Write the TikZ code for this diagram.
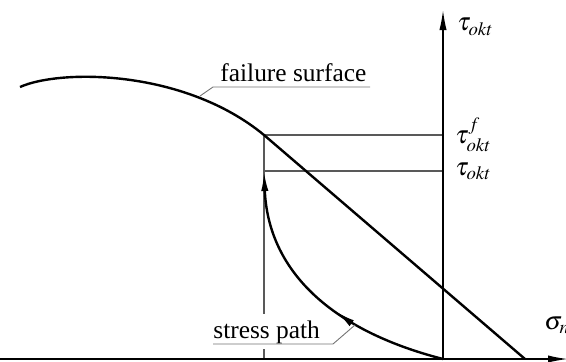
\documentclass[tikz,border=0pt]{standalone}
\usepackage{mathptmx}
\usepackage{fontspec}
\setmainfont{Liberation Serif}
\newfontfamily\labelfont{Liberation Serif}
\usetikzlibrary{arrows.meta, positioning, decorations.markings}

\begin{document}
\begin{tikzpicture}[x=0.5pt, y=0.5pt, node distance=6pt,
        font=\labelfont\fontsize{12.7}{15}\selectfont,
        >={Latex[length=10pt, width=3.6pt]},
        axis/.style={draw=black, line width=0.7pt},
        guide/.style={draw=black!65, line width=0.6pt},
        curve/.style={draw=black, line width=1.2pt},
        leader/.style={draw=black!55, line width=0.45pt},
        lbl/.style={inner sep=0pt}]
        \useasboundingbox (0,0) rectangle (566,361);

        % axes
        \coordinate (O) at (443,2);
        \coordinate (xstart) at (0,2);
        \coordinate (xend) at (568,2);
        \coordinate (ytop) at (443,351);
        \coordinate (tf) at (443,226);
        \coordinate (tk) at (443,190);
        \coordinate (A) at (264,226);
        \coordinate (B) at (264,190);
        \coordinate (Ab) at (264,2);
        \coordinate (f0) at (20,274);
        \coordinate (f1) at (525,2);

        \draw[guide] (A) -- (tf);
        \draw[guide] (B) -- (tk);
        \draw[guide] (A) -- (Ab);

        \draw[axis, ->] (xstart) -- (xend);
        \draw[axis, ->] (O) -- (ytop);

        \node[lbl, below right=4pt and 7pt of ytop] (tau) {$\tau_{okt}$};
        \node[lbl, right=6pt of tf] (tauf) {$\tau^f_{okt}$};
        \node[lbl, right=6pt of tk] (tauk) {$\tau_{okt}$};
        \node[lbl, anchor=west] (sig) at (544,36) {$\sigma_n$};

        % failure surface
        \draw[curve] (f0) .. controls (60,292) and (184,292) .. (A) -- (f1);

        % stress path
        \draw[curve, ->, postaction=decorate,
              decoration={markings, mark=at position 0.42 with {\arrow{>}}}]
            (O) .. controls (330,31) and (268,91) .. (B);

        % labels
        \node[lbl, anchor=base west] (fs) at (220,280) {failure surface};
        \coordinate (fs0) at (213,274);
        \coordinate (fs1) at (370,274);
        \coordinate (fsp) at (200,265);
        \draw[leader] (fs1) -- (fs0) -- (fsp);

        \node[lbl, fill=white, inner ysep=3pt, anchor=base west] (sp) at (213,23) {stress path};
        \coordinate (sp0) at (213,17);
        \coordinate (sp1) at (333,17);
        \coordinate (spp) at (355,36);
        \draw[leader] (sp0) -- (sp1) -- (spp);
\end{tikzpicture}
\end{document}
